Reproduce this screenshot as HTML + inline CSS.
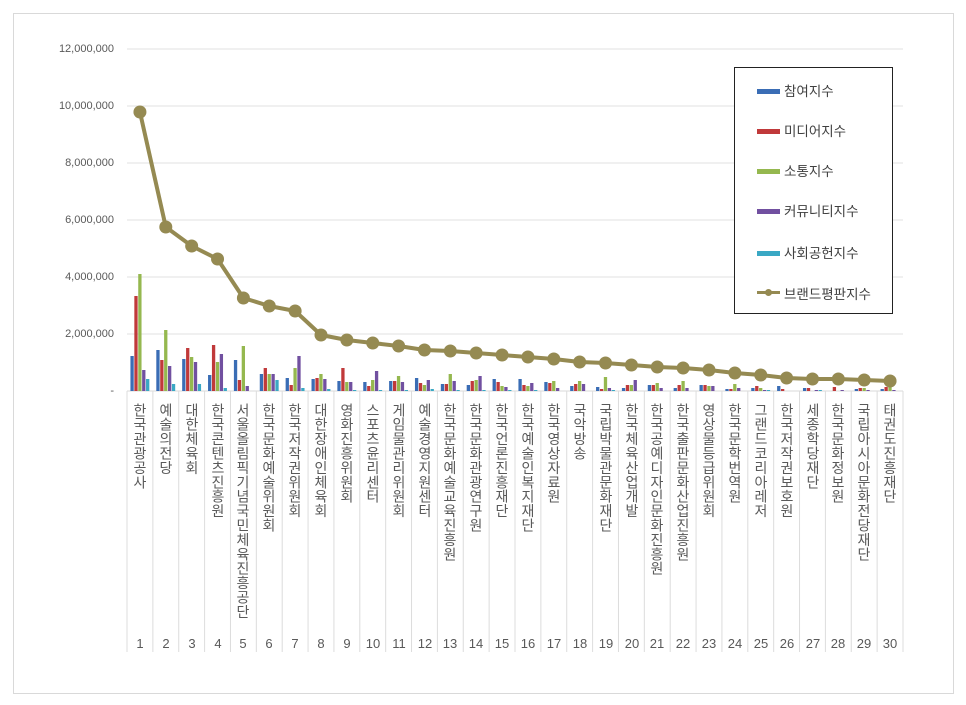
<!DOCTYPE html>
<html><head><meta charset="utf-8">
<style>
body{margin:0;background:#fff;width:966px;height:705px;overflow:hidden;position:relative;font-family:"Liberation Sans","Noto Sans CJK KR",sans-serif;}
.frame{position:absolute;left:13px;top:13px;width:939px;height:679px;border:1px solid #d9d9d9;}
.yl{position:absolute;right:852px;font-size:11px;color:#595959;line-height:12px;}
.cat{position:absolute;top:403px;width:26px;writing-mode:vertical-rl;text-orientation:upright;font-size:14px;letter-spacing:0.4px;color:#595959;font-family:"Noto Sans CJK KR",sans-serif;line-height:26px;}
.num{position:absolute;top:636px;width:26px;text-align:center;font-size:13px;color:#595959;}
.leg{position:absolute;left:734px;top:67px;width:157px;height:245px;border:1px solid #222;background:#fff;}
.li{position:absolute;left:49px;font-size:13.5px;color:#404040;font-family:"Noto Sans CJK KR",sans-serif;line-height:14px;}
.sw{position:absolute;left:22px;width:23px;height:5px;}
</style></head><body>
<div class="frame"></div>
<svg id="s" width="966" height="705" style="position:absolute;left:0;top:0"></svg>
<div class="yl" style="top:43px">12,000,000</div>
<div class="yl" style="top:100px">10,000,000</div>
<div class="yl" style="top:157px">8,000,000</div>
<div class="yl" style="top:214px">6,000,000</div>
<div class="yl" style="top:271px">4,000,000</div>
<div class="yl" style="top:328px">2,000,000</div>
<div class="yl" style="top:385px">-</div>
<div id="cats">
<div class="cat" style="left:127px">한국관광공사</div>
<div class="cat" style="left:153px">예술의전당</div>
<div class="cat" style="left:179px">대한체육회</div>
<div class="cat" style="left:205px">한국콘텐츠진흥원</div>
<div class="cat" style="left:230px">서울올림픽기념국민체육진흥공단</div>
<div class="cat" style="left:256px">한국문화예술위원회</div>
<div class="cat" style="left:282px">한국저작권위원회</div>
<div class="cat" style="left:308px">대한장애인체육회</div>
<div class="cat" style="left:334px">영화진흥위원회</div>
<div class="cat" style="left:360px">스포츠윤리센터</div>
<div class="cat" style="left:386px">게임물관리위원회</div>
<div class="cat" style="left:412px">예술경영지원센터</div>
<div class="cat" style="left:437px">한국문화예술교육진흥원</div>
<div class="cat" style="left:463px">한국문화관광연구원</div>
<div class="cat" style="left:489px">한국언론진흥재단</div>
<div class="cat" style="left:515px">한국예술인복지재단</div>
<div class="cat" style="left:541px">한국영상자료원</div>
<div class="cat" style="left:567px">국악방송</div>
<div class="cat" style="left:593px">국립박물관문화재단</div>
<div class="cat" style="left:619px">한국체육산업개발</div>
<div class="cat" style="left:644px">한국공예디자인문화진흥원</div>
<div class="cat" style="left:670px">한국출판문화산업진흥원</div>
<div class="cat" style="left:696px">영상물등급위원회</div>
<div class="cat" style="left:722px">한국문학번역원</div>
<div class="cat" style="left:748px">그랜드코리아레저</div>
<div class="cat" style="left:774px">한국저작권보호원</div>
<div class="cat" style="left:800px">세종학당재단</div>
<div class="cat" style="left:825px">한국문화정보원</div>
<div class="cat" style="left:851px">국립아시아문화전당재단</div>
<div class="cat" style="left:877px">태권도진흥재단</div>
</div>
<div id="nums">
<div class="num" style="left:127px">1</div><div class="num" style="left:153px">2</div><div class="num" style="left:179px">3</div><div class="num" style="left:205px">4</div><div class="num" style="left:230px">5</div><div class="num" style="left:256px">6</div><div class="num" style="left:282px">7</div><div class="num" style="left:308px">8</div><div class="num" style="left:334px">9</div><div class="num" style="left:360px">10</div><div class="num" style="left:386px">11</div><div class="num" style="left:412px">12</div><div class="num" style="left:437px">13</div><div class="num" style="left:463px">14</div><div class="num" style="left:489px">15</div><div class="num" style="left:515px">16</div><div class="num" style="left:541px">17</div><div class="num" style="left:567px">18</div><div class="num" style="left:593px">19</div><div class="num" style="left:619px">20</div><div class="num" style="left:644px">21</div><div class="num" style="left:670px">22</div><div class="num" style="left:696px">23</div><div class="num" style="left:722px">24</div><div class="num" style="left:748px">25</div><div class="num" style="left:774px">26</div><div class="num" style="left:800px">27</div><div class="num" style="left:825px">28</div><div class="num" style="left:851px">29</div><div class="num" style="left:877px">30</div>
</div>
<div class="leg">
<div class="sw" style="top:21px;background:#3a6db5"></div><div class="li" style="top:15px">참여지수</div>
<div class="sw" style="top:61px;background:#c0393a"></div><div class="li" style="top:55px">미디어지수</div>
<div class="sw" style="top:101px;background:#95b84f"></div><div class="li" style="top:95px">소통지수</div>
<div class="sw" style="top:141px;background:#7150a0"></div><div class="li" style="top:135px">커뮤니티지수</div>
<div class="sw" style="top:183px;background:#3aa8c4"></div><div class="li" style="top:177px">사회공헌지수</div>
<div style="position:absolute;left:22px;top:223px;width:23px;height:3px;background:#958a52"></div>
<div style="position:absolute;left:30px;top:221px;width:7px;height:7px;border-radius:50%;background:#958a52"></div>
<div class="li" style="top:218px">브랜드평판지수</div>
</div>
<script>
var s=document.getElementById('s'),ns='http://www.w3.org/2000/svg';
function el(t,a){var e=document.createElementNS(ns,t);for(var k in a)e.setAttribute(k,a[k]);s.appendChild(e);return e;}
var L=127,R=903,st=(R-L)/30;
for(var i=0;i<6;i++)el('line',{x1:L,x2:R,y1:49+57*i,y2:49+57*i,stroke:'#e0e0e0','stroke-width':1});
el('line',{x1:L,x2:R,y1:391,y2:391,stroke:'#d9d9d9'});
for(var i=0;i<=30;i++)el('line',{x1:L+st*i,x2:L+st*i,y1:391,y2:652,stroke:'#dcdcdc'});
var B=[[35,95,117,21,12],[41,31,61,25,7],[32,43,34,29,7],[16,46,29,37,3],[31,11,45,5,0],[17,23,17,17,11],[13,6,23,35,3],[12,13,17,12,2],[10,23,9,9,1],[9,5,11,20,1],[10,10,15,9,1],
[13,8,6,11,2],[7,7,17,10,1],[6,10,11,15,1],[12,9,5,4,1],[12,6,5,8,1],[9,8,10,3,0],[5,7,10,7,0],[4,2,14,3,1],[3,6,6,11,0],[6,6,8,3,0],[3,6,10,3,0],[6,6,5,5,0],[2,2,7,3,0],[3,5,3,1,1],[5,2,0,0,0],[3,3,0,1,1],[0,4,0,1,0],[2,3,3,1,0],[2,4,5,1,0]];
var C=['#3a6db5','#c0393a','#95b84f','#7150a0','#3aa8c4'];
B.forEach(function(g,i){var cx=L+st*(i+0.5);g.forEach(function(h,j){if(h>0)el('rect',{x:cx-9.5+j*3.9,y:391-h,width:3.3,height:h,fill:C[j]});});});
var Y=[112,227,246,259,298,306,311,335,340,343,346,350,351,353,355,357,359,362,363,365,367,368,370,373,375,378,379,379,380,381];
var p=Y.map(function(y,i){return (L+st*(i+0.5))+','+y;}).join(' ');
el('polyline',{points:p,fill:'none',stroke:'#958a52','stroke-width':4,'stroke-linejoin':'round'});
Y.forEach(function(y,i){el('circle',{cx:L+st*(i+0.5),cy:y,r:6.5,fill:'#958a52'});});
</script>
</body></html>
